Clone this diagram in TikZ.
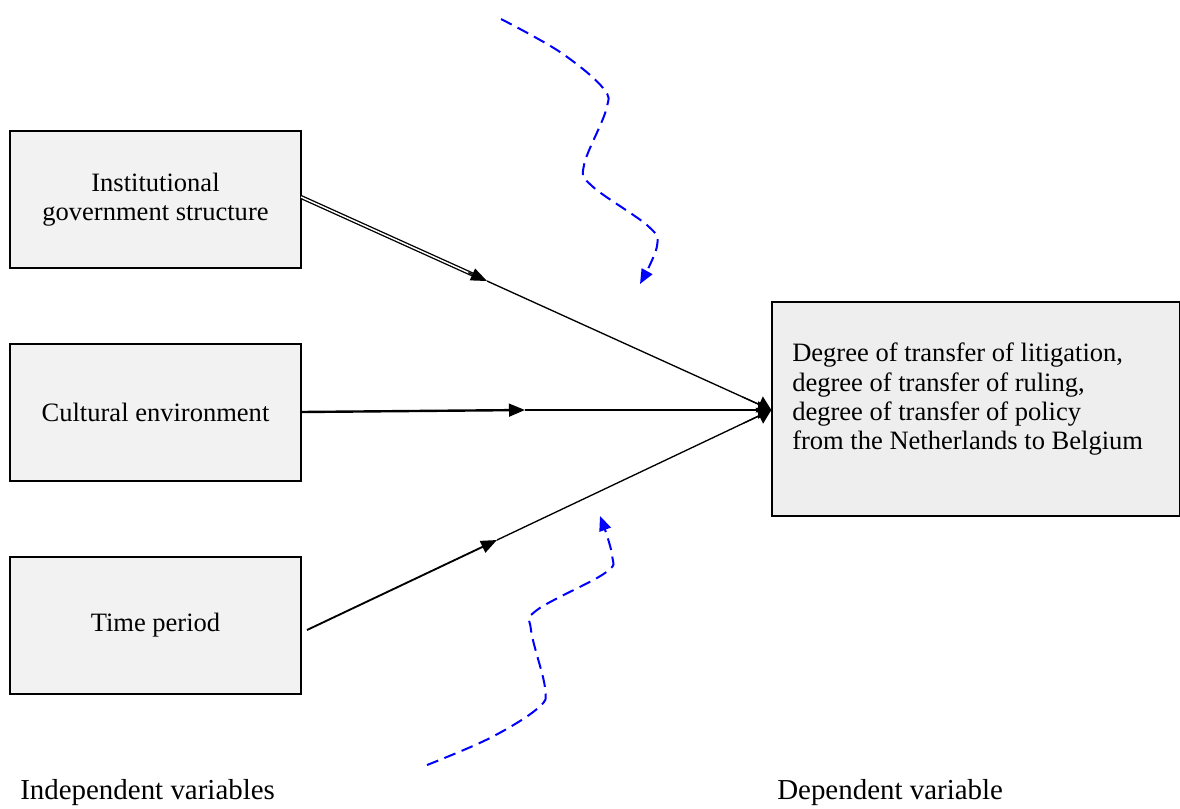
\documentclass[tikz,border=0pt]{standalone}
\usepackage{fontspec}
\setmainfont{Liberation Serif}
\usetikzlibrary{arrows.meta,calc}
\definecolor{boxgray}{RGB}{242,242,242}
\definecolor{boxgrayb}{RGB}{238,238,238}
\definecolor{flowblue}{RGB}{0,0,255}
\begin{document}
\begin{tikzpicture}[x=0.75pt,y=-0.75pt,
  txt/.style={font=\fontsize{19.9}{22}\selectfont},
  lbl/.style={font=\fontsize{21.7}{24}\selectfont},
  varbox/.style={txt,draw=black,line width=1pt,fill=boxgray,minimum width=218.25pt,minimum height=102.75pt,inner sep=0pt,align=center},
  depbox/.style={draw=black,line width=1pt,fill=boxgrayb,minimum width=306pt,minimum height=160.5pt,inner sep=0pt},
  link/.style={draw=black,line width=1pt},
  tip/.style={-{Triangle[length=12pt,width=9.5pt]}},
  endtip/.style={-{Triangle[length=10pt,width=13pt]}},
  flow/.style={draw=flowblue,line width=1.5pt,dash pattern=on 9pt off 5pt,-{Triangle[length=11pt,width=9pt]}}]
\useasboundingbox (0,0) rectangle (1180,808);

% boxes
\node[varbox] (inst) at (155.5,199.5) {Institutional\\government structure};
\node[varbox] (cult) at (155.5,412.5) {Cultural environment};
\node[varbox] (time) at (155.5,625.5) {\raisebox{-4pt}{Time period}};
\node[depbox] (dep) at (976,409) {};
\node[txt,anchor=north west,align=left,inner sep=0pt] (deptext) at (792,343)
  {Degree of transfer of litigation,\\degree of transfer of ruling,\\degree of transfer of policy\\from the Netherlands to Belgium};

% connector points
\coordinate (a1) at (301,197);
\coordinate (m1) at (487,281);
\coordinate (a2) at (301,412);
\coordinate (m2) at (525,410);
\coordinate (a3) at (307,630);
\coordinate (m3) at (497,540);
\coordinate (t) at (dep.west |- 0,410);

% connector 1 (double first part)
\draw[link,double=white,double distance=1.1pt,line width=1pt] (a1) -- ($(a1)!0.96!(m1)$);
\draw[link,tip] ($(a1)!0.9!(m1)$) -- (m1);
\draw[link] (m1) -- (t);
\draw[link,endtip] ($(m1)!0.9!(t)$) -- (t);

% connector 2 (thicker first part)
\draw[draw=black,line width=1.8pt,tip] (a2) -- (m2);
\draw[link] (m2) -- (t);
\draw[link,endtip] ($(m2)!0.9!(t)$) -- (t);

% connector 3
\draw[draw=black,line width=1.4pt,tip] (a3) -- (m3);
\draw[link] (m3) -- (t);
\draw[link,endtip] ($(m3)!0.9!(t)$) -- (t);

% blue dashed influences
\coordinate (f1s) at (501,19);
\coordinate (f1e) at (640,284);
\draw[flow] plot[smooth,tension=0.6] coordinates {(f1s) (560,52) (603,88) (606,110) (584,165) (592,186) (648,226) (657,246) (f1e)};
\coordinate (f2s) at (427,765);
\coordinate (f2e) at (600,516);
\draw[flow] plot[smooth,tension=0.6] coordinates {(f2s) (490,738) (538,708) (545,688) (531,630) (537,610) (605,573) (612,555) (f2e)};

% labels
\node[lbl,anchor=west,inner sep=0pt] (indep) at (20,793) {Independent variables};
\node[lbl,anchor=west,inner sep=0pt] (depl) at (777,793) {Dependent variable};
\end{tikzpicture}
\end{document}
